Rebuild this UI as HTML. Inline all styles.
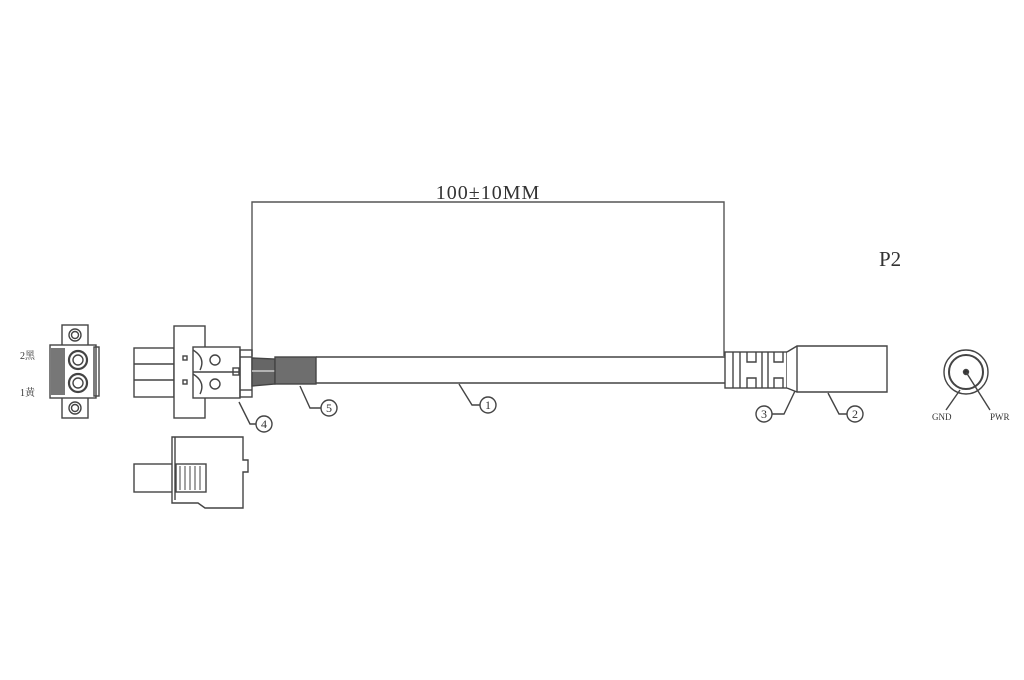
<!DOCTYPE html>
<html><head><meta charset="utf-8"><style>
html,body{margin:0;padding:0;background:#fff;width:1024px;height:680px;overflow:hidden}
svg text{font-family:"Liberation Serif","Noto Serif CJK SC",serif;fill:#333}
</style></head><body>
<svg width="1024" height="680" viewBox="0 0 1024 680" xmlns="http://www.w3.org/2000/svg">
<g fill="none" stroke="#444" stroke-width="1.4">
<!-- dimension -->
<polyline points="252,356 252,202 724,202 724,356" stroke="#555"/>
<!-- left connector (front view) -->
<rect x="62" y="325" width="26" height="93" fill="#fff"/>
<rect x="50" y="345" width="46" height="53" fill="#fff"/>
<rect x="51" y="348" width="14" height="47" fill="#777" stroke="none"/>
<rect x="94" y="347" width="5" height="49"/>
<circle cx="75" cy="335" r="6"/><circle cx="75" cy="335" r="3.5"/>
<circle cx="75" cy="408" r="6"/><circle cx="75" cy="408" r="3.5"/>
<circle cx="78" cy="360" r="9" stroke-width="2.2"/><circle cx="78" cy="360" r="5"/>
<circle cx="78" cy="383" r="9" stroke-width="2.2"/><circle cx="78" cy="383" r="5"/>
<!-- middle connector -->
<rect x="134" y="348" width="40" height="49"/>
<line x1="134" y1="364" x2="174" y2="364"/><line x1="134" y1="380" x2="174" y2="380"/>
<rect x="174" y="326" width="31" height="92" fill="#fff"/>
<rect x="193" y="347" width="47" height="51" fill="#fff"/>
<line x1="193" y1="372" x2="240" y2="372"/>
<path d="M193,350 Q206,358 200,370 M193,374 Q206,382 200,394"/>
<circle cx="215" cy="360" r="5"/><circle cx="215" cy="384" r="5"/>
<rect x="183" y="356" width="4" height="4"/><rect x="183" y="380" width="4" height="4"/>
<rect x="233" y="368" width="6" height="7"/>
<rect x="240" y="350" width="12" height="47"/>
<line x1="240" y1="357" x2="252" y2="357"/><line x1="240" y1="390" x2="252" y2="390"/>
<!-- wires + heatshrink -->
<path d="M252,358 L275,359 L275,384 L252,386 Z" fill="#666" stroke="#444"/>
<path d="M252,371 L275,371" stroke="#ccc"/>
<rect x="275" y="357" width="41" height="27" fill="#6e6e6e" stroke="#444"/>
<!-- cable -->
<line x1="316" y1="357" x2="725" y2="357"/><line x1="316" y1="383" x2="725" y2="383"/>
<!-- boot -->
<rect x="725" y="352" width="62" height="36" fill="#fff"/>
<path d="M733,352V388 M740,352V388 M762,352V388 M768,352V388 M747,352v10h9v-10 M747,388v-10h9v10 M774,352v10h9v-10 M774,388v-10h9v10"/>
<path d="M787,352 L797,346 L887,346 L887,392 L797,392 L787,388" fill="#fff"/>
<line x1="797" y1="346" x2="797" y2="392"/>
<!-- round end -->
<circle cx="966" cy="372" r="22"/><circle cx="966" cy="372" r="17" stroke-width="2"/>
<circle cx="966" cy="372" r="2.5" fill="#333"/>
<line x1="966" y1="372" x2="990" y2="410"/><line x1="960" y1="390" x2="946" y2="410"/>
<!-- bottom connector -->
<rect x="134" y="464" width="42" height="28"/>
<path d="M172,437 L243,437 L243,460 L248,460 L248,472 L243,472 L243,508 L205,508 L198,503 L172,503 Z" fill="#fff"/>
<line x1="175" y1="437" x2="175" y2="500"/>
<rect x="176" y="464" width="30" height="28"/>
<path d="M180,466 L180,490 M185,466 L185,490 M190,466 L190,490 M195,466 L195,490 M200,466 L200,490" stroke-width="1"/>
<!-- leaders + balloons -->
<path d="M239,402 L250,424 L256,424"/><circle cx="264" cy="424" r="8"/>
<path d="M300,386 L310,408 L321,408"/><circle cx="329" cy="408" r="8"/>
<path d="M459,384 L472,405 L480,405"/><circle cx="488" cy="405" r="8"/>
<path d="M795,391 L784,414 L772,414"/><circle cx="764" cy="414" r="8"/>
<path d="M828,393 L839,414 L847,414"/><circle cx="855" cy="414" r="8"/>
</g>
<g font-size="12" text-anchor="middle">
<text x="264" y="428">4</text><text x="329" y="412">5</text><text x="488" y="409">1</text>
<text x="764" y="418">3</text><text x="855" y="418">2</text>
</g>
<text x="488" y="199" font-size="20" text-anchor="middle" letter-spacing="1">100±10MM</text>
<text x="879" y="266" font-size="21">P2</text>
<text x="20" y="359" font-size="10">2黑</text>
<text x="20" y="396" font-size="10">1黄</text>
<text x="932" y="420" font-size="9">GND</text>
<text x="990" y="420" font-size="9">PWR</text>
</svg>
</body></html>
